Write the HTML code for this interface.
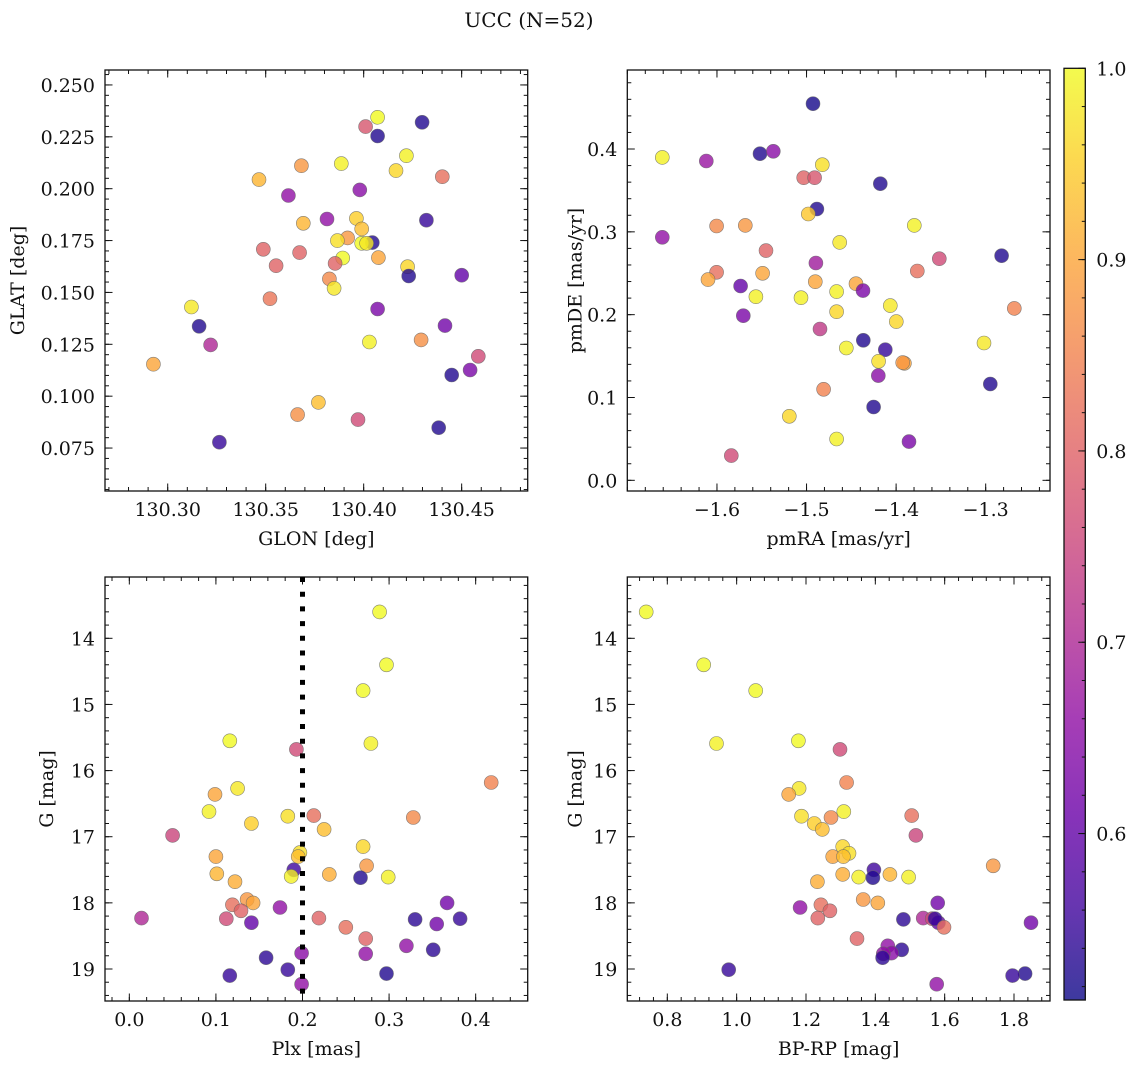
<!DOCTYPE html>
<html><head><meta charset="utf-8"><style>
html,body{margin:0;padding:0;background:#fff;}
svg text{font-family:"DejaVu Serif","Liberation Serif",serif;fill:#111;}
</style></head><body>
<svg id="fig" width="1136" height="1068" viewBox="0 0 1136 1068" xmlns="http://www.w3.org/2000/svg">
<text x="529" y="27" font-size="20" text-anchor="middle">UCC (N=52)</text>
</svg>
<script>
// ---- Panel 1 data: GLON / GLAT ----
const p1Glon=[130.4071,130.4298,130.4010,130.4071,130.4218,130.3682,130.3886,130.4165,130.4401,130.3466,130.3980,130.3616,130.3813,130.3963,130.4320,130.3692,130.3990,130.3918,130.3866,130.4044,130.3990,130.4015,130.3488,130.3673,130.4075,130.3893,130.3854,130.3553,130.4224,130.4230,130.4500,130.3825,130.3849,130.3522,130.3121,130.4071,130.4415,130.3160,130.4029,130.4293,130.3219,130.4585,130.4543,130.4449,130.2927,130.3769,130.3663,130.3971,130.4383,130.3264];
const p1Glat=[0.2344,0.2320,0.2299,0.2254,0.2159,0.2111,0.2121,0.2087,0.2058,0.2044,0.1994,0.1967,0.1854,0.1857,0.1848,0.1833,0.1806,0.1763,0.1750,0.1740,0.1737,0.1737,0.1708,0.1692,0.1668,0.1666,0.1640,0.1629,0.1624,0.1579,0.1583,0.1565,0.1520,0.1470,0.1430,0.1420,0.1340,0.1337,0.1261,0.1271,0.1247,0.1192,0.1126,0.1102,0.1154,0.0970,0.0911,0.0887,0.0848,0.0778];
const p1Prob=[1.0,0.53,0.78,0.53,0.99,0.88,0.99,0.96,0.82,0.92,0.65,0.66,0.66,0.95,0.55,0.92,0.93,0.88,0.97,0.53,1.0,0.98,0.8,0.8,0.9,1.0,0.8,0.8,0.96,0.53,0.6,0.86,0.98,0.83,0.98,0.63,0.62,0.53,0.99,0.87,0.7,0.76,0.63,0.53,0.9,0.93,0.87,0.76,0.53,0.55];
// ---- Panel 2 data: pmRA / pmDE ----
const p2PmRA=[-1.4928,-1.6610,-1.6119,-1.5520,-1.5371,-1.4824,-1.5032,-1.4910,-1.4176,-1.4884,-1.4980,-1.6004,-1.5684,-1.3797,-1.6610,-1.4630,-1.5453,-1.2822,-1.3518,-1.4895,-1.3763,-1.6004,-1.6100,-1.5490,-1.4902,-1.4448,-1.5736,-1.4370,-1.4664,-1.5565,-1.5062,-1.4065,-1.2680,-1.4664,-1.5706,-1.3998,-1.4850,-1.4366,-1.4121,-1.4556,-1.3019,-1.4195,-1.3908,-1.3927,-1.4199,-1.2948,-1.4809,-1.4251,-1.5192,-1.4664,-1.3856,-1.5840];
const p2PmDE=[0.4547,0.3899,0.3855,0.3944,0.3972,0.3811,0.3654,0.3654,0.3581,0.3276,0.3215,0.3070,0.3078,0.3078,0.2934,0.2873,0.2773,0.2712,0.2676,0.2624,0.2527,0.2511,0.2423,0.2499,0.2398,0.2374,0.2346,0.2290,0.2278,0.2217,0.2205,0.2109,0.2076,0.2036,0.1988,0.1916,0.1827,0.1690,0.1577,0.1598,0.1658,0.1437,0.1413,0.1421,0.1264,0.1163,0.1099,0.0885,0.0773,0.0499,0.0467,0.0298];
const p2Prob=[0.52,0.99,0.67,0.53,0.65,0.97,0.8,0.78,0.53,0.53,0.94,0.86,0.88,0.99,0.66,0.98,0.8,0.53,0.76,0.68,0.82,0.82,0.9,0.9,0.9,0.9,0.6,0.63,0.99,0.99,0.99,0.98,0.85,0.96,0.63,0.96,0.73,0.53,0.55,0.99,0.98,0.97,0.9,0.88,0.65,0.53,0.85,0.53,0.96,0.99,0.63,0.76];
// ---- Panel 3 data: Plx vs G ----
const plx=[0.289,0.297,0.270,0.116,0.193,0.279,0.418,0.125,0.099,0.092,0.183,0.213,0.141,0.328,0.225,0.050,0.270,0.100,0.197,0.195,0.274,0.190,0.101,0.187,0.231,0.267,0.299,0.122,0.136,0.143,0.119,0.129,0.174,0.367,0.014,0.112,0.141,0.219,0.330,0.382,0.355,0.250,0.273,0.320,0.351,0.199,0.273,0.158,0.183,0.297,0.116,0.199];
const gmag=[13.60,14.40,14.79,15.55,15.68,15.59,16.18,16.27,16.36,16.62,16.69,16.68,16.80,16.71,16.89,16.98,17.15,17.30,17.24,17.30,17.44,17.50,17.56,17.60,17.57,17.62,17.61,17.68,17.95,18.00,18.03,18.12,18.07,18.00,18.23,18.24,18.30,18.23,18.25,18.24,18.32,18.37,18.54,18.65,18.71,18.76,18.77,18.83,19.01,19.07,19.10,19.23];
const gProb=[1.0,1.0,1.0,1.0,0.76,0.99,0.85,0.98,0.9,0.99,0.97,0.82,0.95,0.86,0.93,0.75,0.96,0.9,0.97,0.93,0.88,0.56,0.92,0.99,0.91,0.53,0.99,0.91,0.88,0.9,0.82,0.8,0.66,0.62,0.7,0.76,0.6,0.8,0.54,0.55,0.62,0.82,0.8,0.66,0.54,0.65,0.66,0.54,0.55,0.53,0.55,0.66];
// ---- Panel 4 data: BP-RP vs G ----
const bprp=[0.739,0.905,1.055,1.178,1.298,0.942,1.317,1.180,1.150,1.309,1.187,1.505,1.224,1.272,1.247,1.517,1.306,1.277,1.324,1.308,1.740,1.396,1.306,1.352,1.442,1.393,1.496,1.233,1.365,1.407,1.243,1.269,1.183,1.580,1.538,1.564,1.582,1.234,1.481,1.572,1.849,1.598,1.347,1.436,1.476,1.447,1.423,1.421,0.977,1.832,1.796,1.577];
const bprpG=[13.60,14.40,14.79,15.55,15.68,15.59,16.18,16.27,16.36,16.62,16.69,16.68,16.80,16.71,16.89,16.98,17.15,17.30,17.25,17.30,17.44,17.50,17.57,17.61,17.57,17.62,17.61,17.68,17.95,18.00,18.03,18.12,18.07,18.00,18.23,18.24,18.30,18.23,18.25,18.24,18.30,18.37,18.54,18.65,18.71,18.76,18.77,18.83,19.01,19.07,19.10,19.23];
const bprpProb=[1.0,1.0,1.0,1.0,0.76,0.99,0.85,0.98,0.9,0.99,0.97,0.82,0.95,0.86,0.93,0.75,0.96,0.9,0.97,0.93,0.88,0.56,0.91,0.99,0.92,0.53,0.99,0.91,0.88,0.9,0.82,0.8,0.66,0.62,0.7,0.76,0.6,0.8,0.54,0.55,0.62,0.82,0.8,0.66,0.54,0.65,0.66,0.54,0.55,0.53,0.55,0.66];
const plxLine=[0.2];
// tick labels
const p1XTicks=[130.30,130.35,130.40,130.45];
const p1YTicks=[0.075,0.100,0.125,0.150,0.175,0.200,0.225,0.250];
const p2XTicks=[-1.6,-1.5,-1.4,-1.3];
const p2YTicks=[0.0,0.1,0.2,0.3,0.4];
const p3XTicks=[0.0,0.1,0.2,0.3,0.4];
const p4XTicks=[0.8,1.0,1.2,1.4,1.6,1.8];
const gTicks=[14,15,16,17,18,19];
const cbTicks=[0.6,0.7,0.8,0.9,1.0];
const cMin=0.513, cMax=1.0;

const NS='http://www.w3.org/2000/svg';
const svg=document.getElementById('fig');
const FS=19;
function mk(tag,attrs,parent){const e=document.createElementNS(NS,tag);for(const k in attrs)e.setAttribute(k,attrs[k]);(parent||svg).appendChild(e);return e;}
const stops=[[13,8,135],[65,4,157],[106,0,168],[143,13,164],[177,42,144],[204,71,120],[225,100,98],[242,132,75],[252,166,54],[252,206,37],[240,249,33]];
function plasma(t){t=Math.max(0,Math.min(1,t));const f=t*10,i=Math.min(9,Math.floor(f)),r=f-i;const a=stops[i],b=stops[i+1];return 'rgb('+[0,1,2].map(k=>Math.round(a[k]+(b[k]-a[k])*r)).join(',')+')';}
function cnorm(v){return (v-cMin)/(cMax-cMin);}
function fmt(v,d){return v.toFixed(d).replace('-','\u2212');}

function panel(name,box,xr,yr,xTicks,xMinor,xDec,yTicks,yMinor,yDec,xlabel,ylabel,yOff,xs,ys,cs,inv){
  const [L,T,R,B]=box;
  const sx=v=>L+(v-xr[0])/(xr[1]-xr[0])*(R-L);
  const sy=inv?(v=>T+(v-yr[0])/(yr[1]-yr[0])*(B-T)):(v=>B-(v-yr[0])/(yr[1]-yr[0])*(B-T));
  const g=mk('g',{});
  
  
  const clipId='clip-'+name;
  const cp=mk('clipPath',{id:clipId},g);mk('rect',{x:L,y:T,width:R-L,height:B-T},cp);
  const pts=mk('g',{'clip-path':'url(#'+clipId+')'},g);
  
  
  for(let i=0;i<xs.length;i++){
    const c=mk('circle',{cx:sx(xs[i]).toFixed(1),cy:sy(ys[i]).toFixed(1),r:7,fill:plasma(cnorm(cs[i])),'fill-opacity':0.8,stroke:'#666','stroke-opacity':0.8,'stroke-width':0.6},pts);
    
    
  }
  const tk=mk('g',{stroke:'#111','stroke-width':1},g);
  const xmn=Math.ceil(xr[0]/xMinor-1e-6), xmx=Math.floor(xr[1]/xMinor+1e-6);
  for(let k=xmn;k<=xmx;k++){const x=sx(k*xMinor);mk('line',{x1:x,y1:B,x2:x,y2:B-4},tk);mk('line',{x1:x,y1:T,x2:x,y2:T+4},tk);}
  const ymn=Math.ceil(Math.min(yr[0],yr[1])/yMinor-1e-6), ymx=Math.floor(Math.max(yr[0],yr[1])/yMinor+1e-6);
  for(let k=ymn;k<=ymx;k++){const y=sy(k*yMinor);mk('line',{x1:L,y1:y,x2:L+4,y2:y},tk);mk('line',{x1:R,y1:y,x2:R-4,y2:y},tk);}
  xTicks.forEach(v=>{const x=sx(v);mk('line',{x1:x,y1:B,x2:x,y2:B-7.5},tk);mk('line',{x1:x,y1:T,x2:x,y2:T+7.5},tk);
    const t=mk('text',{x:x,y:B+25,'font-size':FS,'text-anchor':'middle'},g);t.textContent=fmt(v,xDec);
    });
  yTicks.forEach(v=>{const y=sy(v);mk('line',{x1:L,y1:y,x2:L+7.5,y2:y},tk);mk('line',{x1:R,y1:y,x2:R-7.5,y2:y},tk);
    const t=mk('text',{x:L-10,y:y+7,'font-size':FS,'text-anchor':'end'},g);t.textContent=fmt(v,yDec);
    });
  const fr=mk('rect',{x:L,y:T,width:R-L,height:B-T,fill:'none',stroke:'#111','stroke-width':1.3},g);
  
  const xl=mk('text',{x:(L+R)/2,y:B+54,'font-size':FS,'text-anchor':'middle'},g);xl.textContent=xlabel;
  
  const yl=mk('text',{x:0,y:0,'font-size':FS,'text-anchor':'middle',transform:'translate('+(L-yOff)+','+((T+B)/2)+') rotate(-90)'},g);yl.textContent=ylabel;
  
  return {sx,sy,g};
}

panel('glon-glat-panel',[105,70,527.7,491],[130.268,130.4837],[0.0543,0.2572],p1XTicks,0.01,2,p1YTicks,0.005,3,'GLON [deg]','GLAT [deg]',81,p1Glon,p1Glat,p1Prob,false);
panel('pm-panel',[627.3,70,1050,491],[-1.7001,-1.2282],[-0.0129,0.4954],p2XTicks,0.02,1,p2YTicks,0.02,1,'pmRA [mas/yr]','pmDE [mas/yr]',46,p2PmRA,p2PmDE,p2Prob,false);
const p3=panel('plx-g-panel',[105,577,527.7,1001],[-0.0281,0.4601],[13.073,19.484],p3XTicks,0.02,1,gTicks,0.2,0,'Plx [mas]','G [mag]',52,plx,gmag,gProb,true);
panel('cmd-panel',[627.3,577,1050,1001],[0.6846,1.9038],[13.073,19.484],p4XTicks,0.04,1,gTicks,0.2,0,'BP-RP [mag]','G [mag]',46,bprp,bprpG,bprpProb,true);

plxLine.forEach(v=>{const x=p3.sx(v);
  const l=mk('line',{x1:x,y1:577,x2:x,y2:1001,stroke:'#000','stroke-width':5,'stroke-dasharray':'5 9.7'});
  
  
});

(function(){
  const L=1064,R=1085.3,T=68.3,B=1000;
  const defs=mk('defs',{});
  const gr=mk('linearGradient',{id:'cbgrad',x1:0,y1:1,x2:0,y2:0},defs);
  for(let i=0;i<=20;i++){const t=i/20;mk('stop',{offset:t,'stop-color':plasma(t),'stop-opacity':0.8},gr);}
  const r=mk('rect',{x:L,y:T,width:R-L,height:B-T,fill:'url(#cbgrad)',stroke:'#111','stroke-width':1.3});
  
  
  const sy=v=>B-(v-cMin)/(cMax-cMin)*(B-T);
  for(let k=Math.ceil(cMin/0.02);k<=50;k++){const y=sy(k*0.02);mk('line',{x1:R,y1:y,x2:R-3.5,y2:y,stroke:'#111','stroke-width':1});}
  cbTicks.forEach(v=>{const y=sy(v);mk('line',{x1:R,y1:y,x2:R-7,y2:y,stroke:'#111','stroke-width':1});
    const t=mk('text',{x:R+11,y:y+7,'font-size':FS},svg);t.textContent=v.toFixed(1);
    });
})();
</script>
</body></html>
